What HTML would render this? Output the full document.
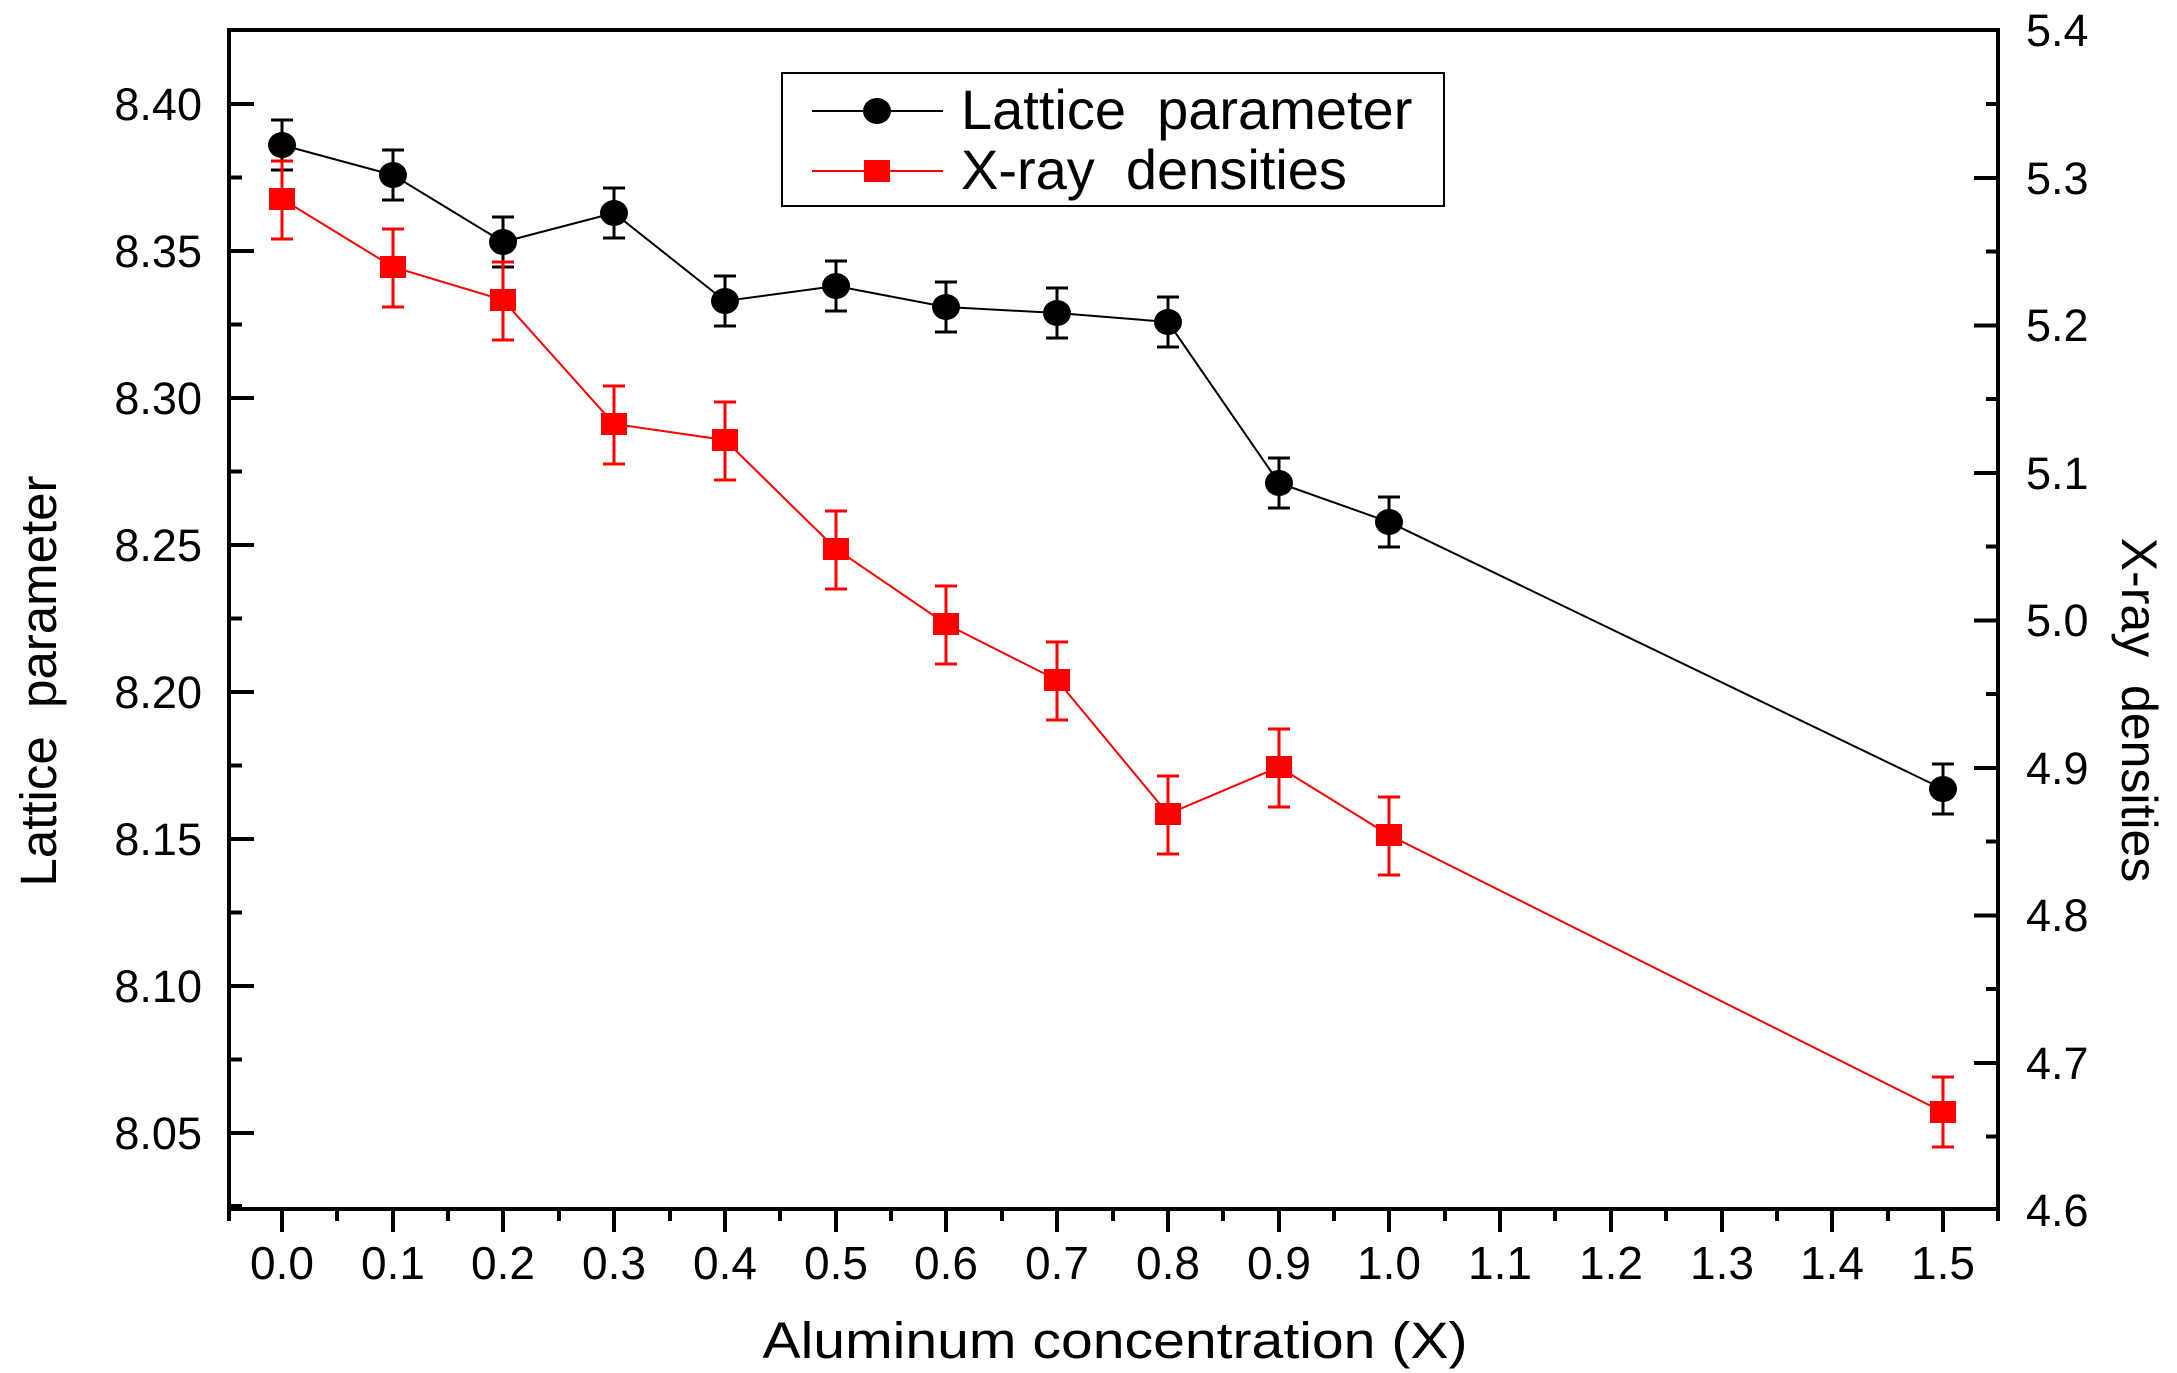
<!DOCTYPE html>
<html><head><meta charset="utf-8"><style>
html,body{margin:0;padding:0;background:#fff}
svg{display:block}
text{font-family:"Liberation Sans",Arial,sans-serif;fill:#000}
</style></head><body>
<svg width="2177" height="1373" viewBox="0 0 2177 1373" xmlns="http://www.w3.org/2000/svg">
<rect width="2177" height="1373" fill="#fff"/>
<g stroke="#000" stroke-width="4" fill="none">
<rect x="229" y="30" width="1769" height="1179"/>
<path d="M229 104h25M229 251h25M229 398h25M229 545h25M229 692h25M229 839h25M229 986h25M229 1133h25
M229 177.5h13M229 324.5h13M229 471.5h13M229 618.5h13M229 765.5h13M229 912.5h13M229 1059.5h13M229 1206h13"/>
<path d="M1998 178h-24M1998 325.5h-24M1998 473h-24M1998 620.5h-24M1998 768h-24M1998 915.5h-24M1998 1063h-24
M1998 104h-12M1998 251.5h-12M1998 399h-12M1998 546.5h-12M1998 694h-12M1998 841.5h-12M1998 989h-12M1998 1136.5h-12"/>
<path d="M282 1209v23M393 1209v23M503 1209v23M614 1209v23M725 1209v23M836 1209v23M946 1209v23M1057 1209v23M1168 1209v23M1279 1209v23M1389 1209v23M1500 1209v23M1611 1209v23M1722 1209v23M1832 1209v23M1943 1209v23
M229 1209v12M337 1209v12M448 1209v12M559 1209v12M670 1209v12M780 1209v12M891 1209v12M1002 1209v12M1113 1209v12M1223 1209v12M1334 1209v12M1445 1209v12M1555 1209v12M1666 1209v12M1777 1209v12M1888 1209v12M1998 1209v12"/>
</g>
<g font-size="45" text-anchor="end">
<text x="202" y="120">8.40</text><text x="202" y="267">8.35</text><text x="202" y="414">8.30</text><text x="202" y="561">8.25</text><text x="202" y="708">8.20</text><text x="202" y="855">8.15</text><text x="202" y="1002">8.10</text><text x="202" y="1149">8.05</text>
</g>
<g font-size="45">
<text x="2026" y="46">5.4</text><text x="2026" y="194">5.3</text><text x="2026" y="341">5.2</text><text x="2026" y="489">5.1</text><text x="2026" y="636">5.0</text><text x="2026" y="784">4.9</text><text x="2026" y="931">4.8</text><text x="2026" y="1079">4.7</text><text x="2026" y="1226">4.6</text>
</g>
<g font-size="46" text-anchor="middle">
<text x="282" y="1279">0.0</text><text x="393" y="1279">0.1</text><text x="503" y="1279">0.2</text><text x="614" y="1279">0.3</text><text x="725" y="1279">0.4</text><text x="836" y="1279">0.5</text><text x="946" y="1279">0.6</text><text x="1057" y="1279">0.7</text><text x="1168" y="1279">0.8</text><text x="1279" y="1279">0.9</text><text x="1389" y="1279">1.0</text><text x="1500" y="1279">1.1</text><text x="1611" y="1279">1.2</text><text x="1722" y="1279">1.3</text><text x="1832" y="1279">1.4</text><text x="1943" y="1279">1.5</text>
</g>
<text x="1115" y="1358" font-size="51" text-anchor="middle" textLength="705" lengthAdjust="spacingAndGlyphs">Aluminum concentration (X)</text>
<text transform="translate(56,681) rotate(-90)" font-size="51" text-anchor="middle" xml:space="preserve">Lattice  parameter</text>
<text transform="translate(2122,710) rotate(90)" font-size="50" text-anchor="middle" xml:space="preserve">X-ray  densities</text>

<polyline fill="none" stroke="#000" stroke-width="2" points="282,145 393,175 503,242 614,213 725,301 836,286 946,307 1057,313 1168,322 1279,483 1389,522 1943,789"/>
<g stroke="#000" stroke-width="3" fill="none">
<path d="M282 120v50M271 120h22M271 170h22"/>
<path d="M393 150v50M382 150h22M382 200h22"/>
<path d="M503 217v50M492 217h22M492 267h22"/>
<path d="M614 188v50M603 188h22M603 238h22"/>
<path d="M725 276v50M714 276h22M714 326h22"/>
<path d="M836 261v50M825 261h22M825 311h22"/>
<path d="M946 282v50M935 282h22M935 332h22"/>
<path d="M1057 288v50M1046 288h22M1046 338h22"/>
<path d="M1168 297v50M1157 297h22M1157 347h22"/>
<path d="M1279 458v50M1268 458h22M1268 508h22"/>
<path d="M1389 497v50M1378 497h22M1378 547h22"/>
<path d="M1943 764v50M1932 764h22M1932 814h22"/>
</g>
<g fill="#000">
<ellipse cx="282" cy="145" rx="14" ry="13"/><ellipse cx="393" cy="175" rx="14" ry="13"/><ellipse cx="503" cy="242" rx="14" ry="13"/><ellipse cx="614" cy="213" rx="14" ry="13"/><ellipse cx="725" cy="301" rx="14" ry="13"/><ellipse cx="836" cy="286" rx="14" ry="13"/><ellipse cx="946" cy="307" rx="14" ry="13"/><ellipse cx="1057" cy="313" rx="14" ry="13"/><ellipse cx="1168" cy="322" rx="14" ry="13"/><ellipse cx="1279" cy="483" rx="14" ry="13"/><ellipse cx="1389" cy="522" rx="14" ry="13"/><ellipse cx="1943" cy="789" rx="14" ry="13"/>
</g>

<polyline fill="none" stroke="#f00" stroke-width="2" points="282,199 393,267 503,300 614,424 725,440 836,549 946,624 1057,680 1168,814 1279,767 1389,835 1943,1112"/>
<g stroke="#f00" stroke-width="3" fill="none">
<path d="M282 161v78M271 161h22M271 239h22"/>
<path d="M393 229v78M382 229h22M382 307h22"/>
<path d="M503 262v78M492 262h22M492 340h22"/>
<path d="M614 386v78M603 386h22M603 464h22"/>
<path d="M725 402v78M714 402h22M714 480h22"/>
<path d="M836 511v78M825 511h22M825 589h22"/>
<path d="M946 586v78M935 586h22M935 664h22"/>
<path d="M1057 642v78M1046 642h22M1046 720h22"/>
<path d="M1168 776v78M1157 776h22M1157 854h22"/>
<path d="M1279 729v78M1268 729h22M1268 807h22"/>
<path d="M1389 797v78M1378 797h22M1378 875h22"/>
<path d="M1943 1077v70M1932 1077h22M1932 1147h22"/>
</g>
<g fill="#f00">
<rect x="269" y="188" width="26" height="22"/><rect x="380" y="256" width="26" height="22"/><rect x="490" y="289" width="26" height="22"/><rect x="601" y="413" width="26" height="22"/><rect x="712" y="429" width="26" height="22"/><rect x="823" y="538" width="26" height="22"/><rect x="933" y="613" width="26" height="22"/><rect x="1044" y="669" width="26" height="22"/><rect x="1155" y="803" width="26" height="22"/><rect x="1266" y="756" width="26" height="22"/><rect x="1376" y="824" width="26" height="22"/><rect x="1930" y="1101" width="26" height="22"/>
</g>

<rect x="782" y="73" width="662" height="133" fill="#fff" stroke="#000" stroke-width="2"/>
<path d="M812 111h131" stroke="#000" stroke-width="2"/>
<ellipse cx="877" cy="111" rx="14" ry="13" fill="#000"/>
<path d="M812 171h131" stroke="#f00" stroke-width="2"/>
<rect x="864" y="160" width="26" height="22" fill="#f00"/>
<text x="961" y="129" font-size="56" xml:space="preserve">Lattice  parameter</text>
<text x="961" y="189" font-size="56" xml:space="preserve">X-ray  densities</text>
</svg>
</body></html>
